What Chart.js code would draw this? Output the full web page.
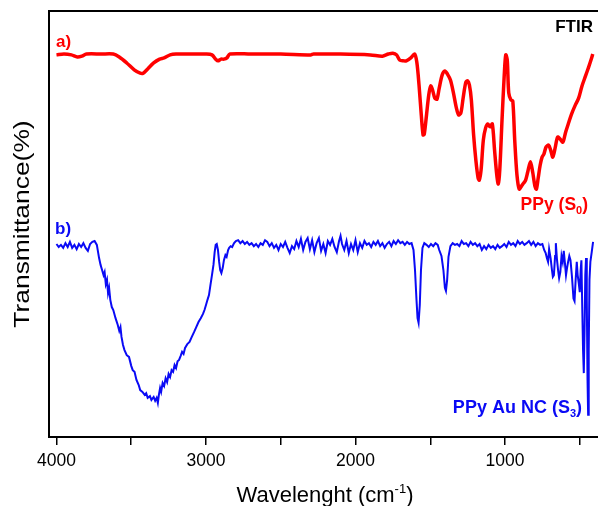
<!DOCTYPE html>
<html>
<head>
<meta charset="utf-8">
<script src="https://cdn.jsdelivr.net/npm/chart.js@4.4.1/dist/chart.umd.min.js"></script>
<style>
  html, body { margin: 0; padding: 0; background: #fff; }
  #wrap { width: 598px; height: 506px; position: relative; }
</style>
</head>
<body>
<div id="wrap"><canvas id="graficoFTIR"></canvas></div>
<script>
// x ticks (cm-1), labels only on thousands
const xTicks = [4000, 3500, 3000, 2500, 2000, 1500, 1000, 500];

// a) PPy (S0)
const ppyWave = [4000, 3950, 3900, 3860, 3830, 3800, 3700, 3620, 3580, 3530, 3480, 3440, 3420, 3390, 3350, 3310, 3280, 3240, 3200, 3100,
  3000, 2960, 2935, 2920, 2900, 2880, 2860, 2840, 2700, 2500, 2300, 2280, 2100, 1900, 1820, 1780, 1750, 1725, 1705, 1680,
  1660, 1630, 1605, 1590, 1575, 1560, 1548, 1540, 1525, 1510, 1497, 1485, 1470, 1455, 1440, 1420, 1402, 1385, 1365, 1345,
  1325, 1310, 1295, 1280, 1262, 1250, 1238, 1225, 1210, 1195, 1180, 1172, 1160, 1145, 1130, 1115, 1100, 1085, 1070, 1055,
  1045, 1035, 1020, 1005, 995, 985, 975, 960, 948, 935, 920, 905, 890, 875, 862, 848, 830, 815, 800, 790,
  778, 765, 752, 740, 725, 708, 695, 680, 665, 648, 630, 613, 595, 575, 555, 530, 507, 485, 462, 440,
  425, 413];
const ppyTrans = [89.7, 89.9, 89.7, 89.2, 89.4, 89.9, 89.9, 89.9, 89.2, 87.8, 86.2, 85.4, 85.4, 86.4, 87.8, 88.7, 89.0, 89.7, 89.9, 89.9,
  89.9, 89.7, 88.7, 88.3, 88.7, 88.7, 89.0, 89.9, 89.9, 89.9, 89.7, 89.9, 89.9, 89.7, 89.4, 89.9, 90.1, 89.7, 88.5, 88.3,
  88.3, 89.0, 89.9, 88.0, 82.6, 75.6, 70.9, 71.1, 75.6, 80.3, 82.4, 81.5, 79.6, 79.3, 81.9, 85.0, 85.9, 85.2, 83.8, 80.8,
  77.2, 75.6, 76.1, 79.6, 83.3, 83.6, 82.6, 79.1, 70.9, 65.0, 60.8, 60.3, 62.7, 69.7, 72.5, 73.5, 72.8, 73.5, 67.4, 61.5,
  59.4, 62.7, 74.4, 85.0, 89.7, 88.5, 80.8, 79.1, 78.9, 69.7, 61.5, 58.2, 58.9, 59.6, 60.3, 62.2, 64.6, 62.2, 58.9, 58.2,
  60.8, 63.8, 65.7, 66.4, 68.1, 68.5, 67.4, 65.7, 67.8, 70.4, 69.9, 69.2, 71.5, 73.7, 75.8, 77.9, 79.6, 82.4, 84.7, 86.9,
  88.5, 89.9];

// b) PPy Au NC (S3)
const auWave = [4000, 3985, 3970, 3955, 3940, 3925, 3910, 3895, 3880, 3865, 3850, 3835, 3820, 3805, 3790, 3775, 3760, 3745, 3730, 3715,
  3705, 3695, 3685, 3678, 3670, 3662, 3655, 3648, 3640, 3630, 3620, 3605, 3590, 3580, 3572, 3565, 3555, 3545, 3530, 3515,
  3500, 3490, 3478, 3465, 3450, 3440, 3425, 3410, 3400, 3390, 3375, 3365, 3350, 3340, 3330, 3322, 3315, 3307, 3300, 3290,
  3280, 3270, 3260, 3250, 3240, 3230, 3220, 3210, 3200, 3190, 3180, 3170, 3160, 3150, 3140, 3125, 3110, 3095, 3080, 3065,
  3050, 3035, 3020, 3010, 3000, 2990, 2980, 2970, 2960, 2950, 2942, 2935, 2928, 2920, 2912, 2905, 2897, 2888, 2880, 2870,
  2862, 2852, 2845, 2835, 2825, 2812, 2800, 2785, 2770, 2755, 2740, 2725, 2710, 2695, 2680, 2665, 2650, 2635, 2620, 2605,
  2590, 2575, 2560, 2545, 2530, 2515, 2500, 2485, 2470, 2455, 2440, 2425, 2410, 2395, 2380, 2365, 2350, 2335, 2320, 2305,
  2290, 2275, 2260, 2245, 2230, 2215, 2200, 2185, 2170, 2155, 2140, 2125, 2110, 2100, 2090, 2075, 2060, 2045, 2030, 2015,
  2000, 1985, 1970, 1955, 1940, 1925, 1910, 1895, 1880, 1865, 1850, 1835, 1820, 1805, 1790, 1775, 1760, 1745, 1730, 1715,
  1700, 1685, 1670, 1655, 1640, 1625, 1612, 1602, 1592, 1585, 1578, 1570, 1562, 1552, 1540, 1525, 1510, 1495, 1480, 1465,
  1450, 1440, 1425, 1412, 1402, 1395, 1387, 1378, 1365, 1350, 1335, 1320, 1305, 1290, 1275, 1260, 1245, 1230, 1215, 1200,
  1185, 1170, 1155, 1140, 1125, 1110, 1095, 1080, 1065, 1050, 1035, 1020, 1005, 990, 975, 960, 945, 930, 915, 900,
  885, 870, 855, 840, 825, 810, 795, 780, 765, 750, 738, 728, 720, 712, 705, 695, 686, 680, 673, 665,
  660, 652, 645, 638, 630, 622, 614, 607, 600, 592, 585, 578, 570, 562, 552, 542, 535, 528, 520, 514,
  507, 500, 494, 489, 483, 478, 473, 468, 463, 458, 453, 448, 444, 440, 435, 429, 420, 411];
const auTrans = [45.3, 44.6, 45.1, 44.4, 45.5, 44.6, 45.8, 44.4, 45.1, 44.1, 45.3, 44.6, 45.5, 44.4, 43.7, 45.3, 45.8, 46.0, 45.1, 42.0,
  40.4, 39.2, 38.0, 38.7, 35.9, 36.9, 33.8, 35.0, 32.2, 30.5, 29.8, 27.9, 26.3, 24.9, 25.8, 23.5, 21.6, 20.4, 19.2, 18.8,
  16.7, 15.7, 15.3, 13.4, 12.2, 11.0, 10.6, 9.9, 10.3, 9.2, 9.6, 8.7, 9.4, 8.5, 9.2, 8.0, 9.9, 11.5, 10.6, 12.7,
  12.0, 13.8, 12.9, 14.8, 14.1, 15.7, 15.3, 16.9, 16.2, 17.8, 18.1, 19.0, 20.0, 19.5, 20.9, 21.8, 22.3, 23.5, 24.6, 25.8,
  27.0, 27.9, 28.9, 29.8, 31.0, 32.2, 33.3, 35.7, 38.0, 40.4, 43.4, 45.1, 45.3, 43.9, 41.1, 39.2, 38.5, 39.7, 41.5, 42.7,
  42.3, 43.9, 44.4, 44.8, 44.6, 45.5, 46.0, 46.2, 45.5, 46.0, 45.3, 45.8, 45.1, 45.5, 44.8, 45.3, 44.6, 45.5, 45.1, 46.2,
  45.8, 44.8, 45.5, 44.4, 45.1, 43.9, 45.3, 44.6, 45.8, 44.4, 43.2, 44.8, 44.1, 46.0, 44.6, 46.5, 43.9, 45.8, 46.7, 44.1,
  46.2, 43.4, 45.5, 46.7, 43.7, 45.3, 43.2, 46.0, 45.1, 46.5, 44.6, 43.4, 46.0, 47.2, 45.3, 43.9, 46.0, 43.2, 45.3, 43.9,
  46.2, 43.4, 45.5, 44.4, 46.0, 45.1, 45.5, 44.6, 45.8, 45.1, 46.0, 44.8, 45.5, 44.4, 45.3, 45.8, 44.8, 46.0, 45.3, 46.2,
  45.5, 45.8, 45.1, 45.8, 45.3, 45.5, 43.9, 39.2, 32.2, 27.9, 26.8, 31.0, 39.2, 44.4, 45.5, 45.1, 44.6, 45.3, 44.8, 45.5,
  45.1, 43.9, 42.5, 39.2, 35.0, 34.3, 36.9, 42.3, 44.8, 45.5, 45.1, 45.3, 44.8, 46.0, 45.3, 45.5, 44.8, 45.8, 45.1, 45.5,
  44.8, 45.3, 43.9, 44.8, 44.1, 45.1, 44.4, 44.8, 44.1, 45.1, 44.4, 44.8, 45.3, 44.6, 45.8, 45.1, 45.5, 44.8, 46.0, 45.3,
  45.8, 45.1, 45.5, 46.0, 45.1, 45.8, 44.8, 45.5, 45.1, 45.3, 43.9, 43.2, 42.0, 41.1, 44.1, 42.0, 39.2, 37.6, 38.0, 42.5,
  45.5, 41.5, 39.2, 37.3, 38.7, 42.5, 41.1, 43.7, 41.1, 38.0, 39.7, 41.1, 42.5, 41.5, 37.6, 32.5, 31.9, 36.6, 41.1, 38.0,
  36.2, 34.0, 39.2, 41.5, 29.8, 20.4, 15.0, 24.9, 38.0, 42.0, 32.2, 13.4, 5.2, 20.4, 36.9, 41.1, 43.4, 45.8];

const vermelho = "#ff0000";
const azul = "#0a0af5";
const fonte = "'Liberation Sans', Arial, sans-serif";

const pontos = (xs, ys) => xs.map((x, i) => ({ x: x, y: ys[i] }));

// texto com subscrito, alinhado à direita
function textoSub(ctx, antes, sub, depois, direita, base, tam, cor) {
  ctx.fillStyle = cor;
  ctx.textAlign = "left";
  ctx.font = `bold ${tam}px ${fonte}`;
  const w1 = ctx.measureText(antes).width;
  const w3 = ctx.measureText(depois).width;
  ctx.font = `bold ${Math.round(tam * 0.62)}px ${fonte}`;
  const w2 = ctx.measureText(sub).width;
  let x = direita - (w1 + w2 + w3);
  ctx.font = `bold ${tam}px ${fonte}`;
  ctx.fillText(antes, x, base);
  x += w1;
  ctx.font = `bold ${Math.round(tam * 0.62)}px ${fonte}`;
  ctx.fillText(sub, x, base + 4);
  x += w2;
  ctx.font = `bold ${tam}px ${fonte}`;
  ctx.fillText(depois, x, base);
}

const rotulos = {
  id: "rotulos",
  afterDraw(chart) {
    const ctx = chart.ctx;
    const a = chart.chartArea;
    ctx.save();
    // linha superior do quadro
    ctx.strokeStyle = "#000";
    ctx.lineWidth = 2;
    ctx.beginPath();
    ctx.moveTo(a.left, a.top);
    ctx.lineTo(a.right, a.top);
    ctx.stroke();

    ctx.textBaseline = "alphabetic";
    ctx.font = `bold 17px ${fonte}`;
    ctx.fillStyle = vermelho;
    ctx.fillText("a)", 56, 47);
    ctx.fillStyle = azul;
    ctx.fillText("b)", 55, 234);

    ctx.fillStyle = "#000";
    ctx.textAlign = "right";
    ctx.fillText("FTIR", 593, 32);

    textoSub(ctx, "PPy (S", "0", ")", 588, 210, 17.5, vermelho);
    textoSub(ctx, "PPy Au NC (S", "3", ")", 582, 413, 18, azul);

    // título do eixo x com sobrescrito
    ctx.fillStyle = "#000";
    ctx.textAlign = "left";
    ctx.font = `22px ${fonte}`;
    const t1 = "Wavelenght (cm", t2 = "-1", t3 = ")";
    const w1 = ctx.measureText(t1).width;
    const w3 = ctx.measureText(t3).width;
    ctx.font = `13px ${fonte}`;
    const w2 = ctx.measureText(t2).width;
    let x = 325 - (w1 + w2 + w3) / 2;
    ctx.font = `22px ${fonte}`;
    ctx.fillText(t1, x, 502);
    x += w1;
    ctx.font = `13px ${fonte}`;
    ctx.fillText(t2, x, 493);
    x += w2;
    ctx.font = `22px ${fonte}`;
    ctx.fillText(t3, x, 502);

    // título do eixo y
    ctx.translate(22.5, 224);
    ctx.rotate(-Math.PI / 2);
    ctx.scale(1.2, 1);
    ctx.textAlign = "center";
    ctx.textBaseline = "middle";
    ctx.font = `22px ${fonte}`;
    ctx.fillText("Transmittance(%)", 0, 0);
    ctx.restore();
  }
};

new Chart(document.getElementById("graficoFTIR"), {
  type: "line",
  data: {
    datasets: [
      {
        label: "PPy (S0)",
        data: pontos(ppyWave, ppyTrans),
        borderColor: vermelho,
        borderWidth: 3.5,
        pointRadius: 0,
        tension: 0.3
      },
      {
        label: "PPy Au NC (S3)",
        data: pontos(auWave, auTrans),
        borderColor: azul,
        borderWidth: 2,
        pointRadius: 0,
        tension: 0
      }
    ]
  },
  options: {
    responsive: true,
    maintainAspectRatio: false,
    animation: false,
    layout: { padding: { top: 11, right: 0, left: 0, bottom: 0 } },
    plugins: {
      legend: { display: false },
      tooltip: { enabled: false }
    },
    scales: {
      x: {
        type: "linear",
        reverse: true,
        min: 378,
        max: 4050,
        afterBuildTicks: (scale) => { scale.ticks = xTicks.map(v => ({ value: v })); },
        afterFit: (scale) => { scale.height = 69; },
        grid: {
          display: true,
          drawOnChartArea: false,
          drawTicks: true,
          tickLength: 8,
          color: "#000",
          lineWidth: 1.5
        },
        border: { display: true, color: "#000", width: 2 },
        ticks: {
          autoSkip: false,
          maxRotation: 0,
          color: "#000",
          padding: 6,
          font: { family: fonte, size: 17.5 },
          callback: (v) => (v % 1000 === 0 ? String(v) : "")
        }
      },
      y: {
        min: 0,
        max: 100,
        afterFit: (scale) => { scale.width = 49; },
        grid: { display: false },
        border: { display: true, color: "#000", width: 2 },
        ticks: { display: false }
      }
    }
  },
  plugins: [rotulos]
});
</script>
</body>
</html>
